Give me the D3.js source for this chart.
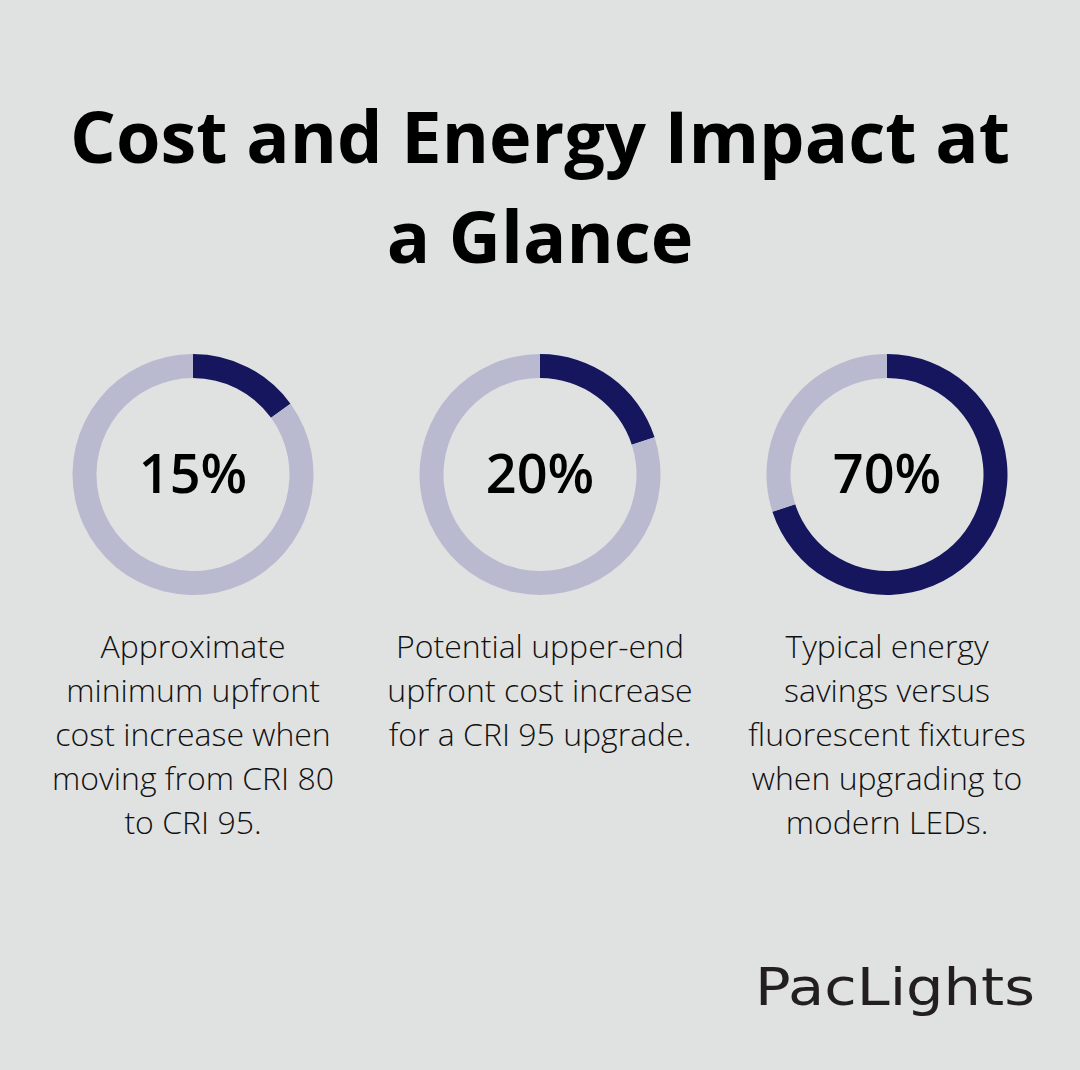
<!DOCTYPE html>
<html>
<head>
<meta charset="utf-8">
<script src="https://cdn.jsdelivr.net/npm/d3@7"></script>
<style>
  body { margin: 0; background: #e0e2e1; }
</style>
</head>
<body>
<div class="box"></div>
<script>
// DATA
const titleLines = ['Cost and Energy Impact at', 'a Glance'];
const percents = [15, 20, 70];
const captions = [
  ['Approximate', 'minimum upfront', 'cost increase when', 'moving from CRI 80', 'to CRI 95.'],
  ['Potential upper-end', 'upfront cost increase', 'for a CRI 95 upgrade.'],
  ['Typical energy', 'savings versus', 'fluorescent fixtures', 'when upgrading to', 'modern LEDs.']
];
const brand = 'PacLights';

// SETUP
const width = 1080, height = 1070;
const svg = d3.select('.box')
              .append('svg')
              .attr('width', width)
              .attr('height', height)
              .style('background', '#e0e2e1');

// title
svg.append('g')
   .selectAll('text')
   .data(titleLines)
   .enter()
   .append('text')
   .attr('x', width / 2)
   .attr('y', (d, i) => 163 + i * 100)
   .attr('text-anchor', 'middle')
   .style('font-family', '"Open Sans", sans-serif')
   .style('font-weight', 700)
   .style('font-size', '72px')
   .style('fill', '#000')
   .text(d => d);

// donuts
const x = d3.scalePoint()
            .domain(percents.map((d, i) => i))
            .range([193, 887]);
const cy = 474.5;
const outerR = 120.5, innerR = 96.5;

const arc = d3.arc().innerRadius(innerR).outerRadius(outerR);
const pie = d3.pie().sort(null).value(d => d);

const groups = svg.selectAll('g.donut')
                  .data(percents)
                  .enter()
                  .append('g')
                  .attr('class', 'donut')
                  .attr('transform', (d, i) => `translate(${x(i)}, ${cy})`);

groups.selectAll('path')
      .data(d => pie([d, 100 - d]))
      .enter()
      .append('path')
      .attr('d', arc)
      .attr('fill', (d, i) => i === 0 ? '#16165e' : '#b9bacf');

groups.append('text')
      .attr('text-anchor', 'middle')
      .attr('y', 18)
      .style('font-family', '"Open Sans", sans-serif')
      .style('font-weight', 600)
      .style('font-size', '54px')
      .style('fill', '#000')
      .text(d => d + '%');

// captions
groups.append('text')
      .attr('text-anchor', 'middle')
      .style('font-family', '"Open Sans", sans-serif')
      .style('font-weight', 300)
      .style('font-size', '32px')
      .style('fill', '#111')
      .selectAll('tspan')
      .data((d, i) => captions[i])
      .enter()
      .append('tspan')
      .attr('x', 0)
      .attr('y', (d, i) => 183 + i * 44)
      .text(d => d);

// logo
svg.append('text')
   .attr('x', 755)
   .attr('y', 1005)
   .attr('textLength', 280)
   .attr('lengthAdjust', 'spacingAndGlyphs')
   .style('font-family', '"DejaVu Sans", sans-serif')
   .style('font-size', '51px')
   .style('fill', '#231f20')
   .text(brand);
</script>
</body>
</html>
